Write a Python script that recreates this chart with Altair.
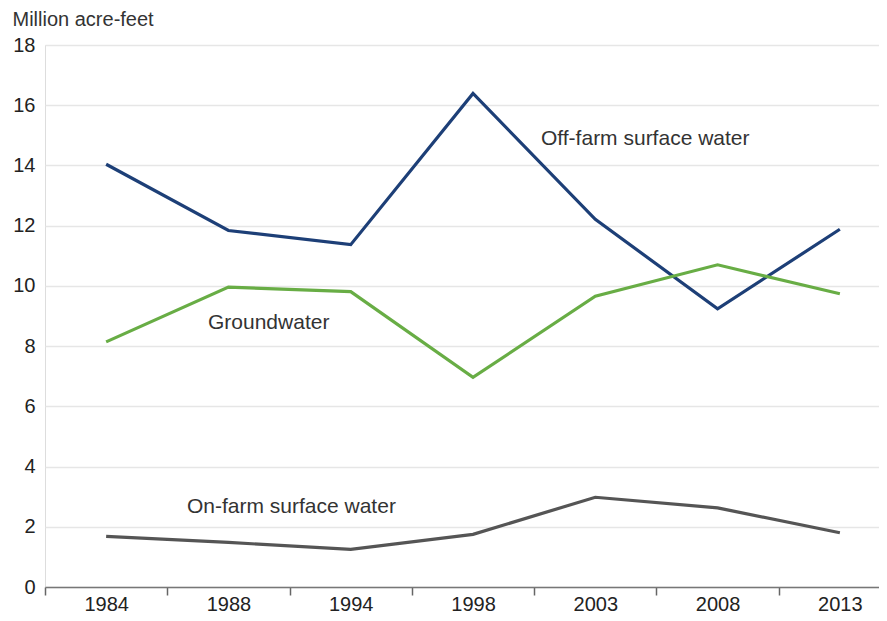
import altair as alt
import pandas as pd

years = ["1984", "1988", "1994", "1998", "2003", "2008", "2013"]
off_farm = [14.04, 11.84, 11.37, 16.39, 12.21, 9.24, 11.88]
groundwater = [8.14, 9.96, 9.81, 6.96, 9.66, 10.70, 9.74]
on_farm = [1.68, 1.48, 1.25, 1.75, 2.98, 2.63, 1.80]

series_names = ["Off-farm surface water", "Groundwater", "On-farm surface water"]
series_colors = ["#1d3f77", "#68ad45", "#555555"]

label_text = ["Off-farm surface water", "Groundwater", "On-farm surface water"]
label_x = [3.556, 0.833, 0.661]
label_y = [14.87, 8.77, 2.67]

rows = []
for name, vals in zip(series_names, [off_farm, groundwater, on_farm]):
    for i, (yr, v) in enumerate(zip(years, vals)):
        rows.append({"series": name, "idx": i, "year": yr, "value": v})
df = pd.DataFrame(rows)
labels_df = pd.DataFrame({"text": label_text, "x": label_x, "y": label_y})

year_expr = "[" + ",".join("'%s'" % y for y in years) + "]"
x_values = [i * 0.5 - 0.5 for i in range(14)]

x_scale = alt.Scale(domain=[-0.5, 6.32], nice=False, zero=False)
y_scale = alt.Scale(domain=[0, 18], nice=False)

FONT = "Liberation Sans"

x_axis = alt.Axis(
    values=x_values,
    labelExpr="datum.value % 1 === 0 ? " + year_expr + "[datum.value] : ''",
    tickOpacity={"condition": {"test": "datum.value % 1 !== 0", "value": 1}, "value": 0},
    tickSize=8,
    tickColor="#666666",
    tickWidth=1.5,
    domainColor="#777777",
    domainWidth=1.5,
    labelFont=FONT,
    labelFontSize=20,
    labelColor="#222222",
    labelPadding=-1,
    labelFlush=False,
    labelOverlap=False,
    grid=False,
    title=None,
)
y_axis = alt.Axis(
    values=list(range(0, 19, 2)),
    grid=True,
    gridColor="#e6e6e6",
    gridWidth=1.5,
    domain=False,
    ticks=False,
    labelFont=FONT,
    labelFontSize=20,
    labelColor="#222222",
    labelPadding=10,
    title="Million acre-feet",
    titleAngle=0,
    titleX=-33,
    titleY=-20,
    titleAlign="left",
    titleBaseline="alphabetic",
    titleFont=FONT,
    titleFontSize=20,
    titleFontWeight="normal",
    titleColor="#333333",
)

lines = alt.Chart(df).mark_line(strokeWidth=3.2, clip=True).encode(
    x=alt.X("idx:Q", scale=x_scale, axis=x_axis),
    y=alt.Y("value:Q", scale=y_scale, axis=y_axis),
    color=alt.Color("series:N", scale=alt.Scale(domain=series_names, range=series_colors), legend=None),
    detail="series:N",
)

texts = alt.Chart(labels_df).mark_text(
    align="left", baseline="middle", font=FONT, fontSize=21, color="#333333"
).encode(
    x=alt.X("x:Q", scale=x_scale),
    y=alt.Y("y:Q", scale=y_scale),
    text="text:N",
)

chart = alt.layer(lines, texts).properties(
    width=834,
    height=542,
    padding={"left": 37, "top": 37, "right": 0, "bottom": 26},
    autosize=alt.AutoSizeParams(type="none"),
).configure_view(stroke=None).configure(background="white")

chart.save("out.html", embed_options={"renderer": "svg", "actions": False})
